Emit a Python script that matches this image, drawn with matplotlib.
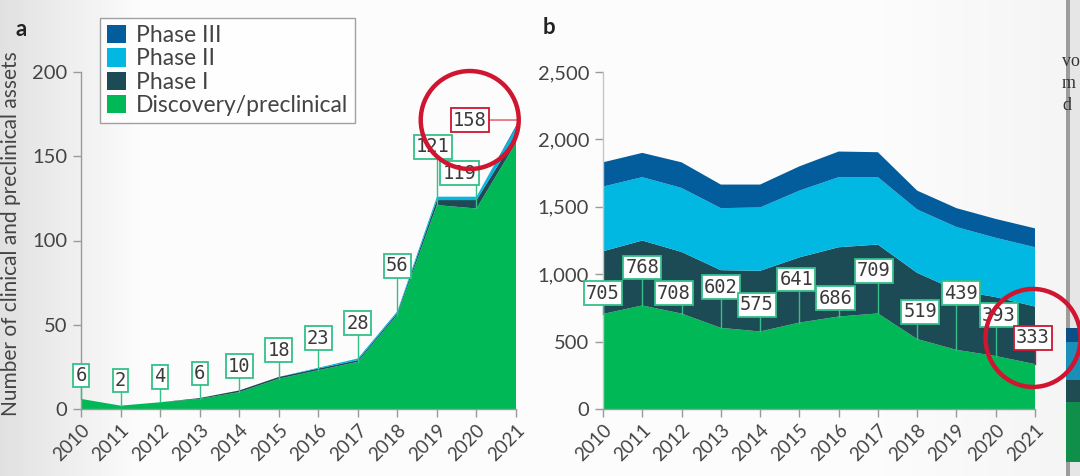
#============================================================
# PLOT.PY  -- clinical / preclinical assets, two stacked panels
#============================================================

import numpy as np
import matplotlib
matplotlib.use('Agg')
import matplotlib.pyplot as plt
from matplotlib.patches import Ellipse, Rectangle
from matplotlib.ticker import FuncFormatter

#------------------------------------------------------------
years = list(range(2010, 2022))
phases = ['Discovery/preclinical', 'Phase I', 'Phase II', 'Phase III']

# panel a
a_disc = [6, 2, 4, 6, 10, 18, 23, 28, 56, 121, 119, 158]
a_ph1  = [0, 0, 0, 0.5, 1, 1, 1, 1, 1, 3, 5, 4]
a_ph2  = [0, 0, 0, 0, 0, 0, 0.5, 1, 1, 2, 2, 5]
a_ph3  = [0, 0, 0, 0, 0, 0, 0, 0, 0, 0, 0, 1]
a_laby = [20, 17, 19, 21, 25.5, 35, 42, 51, 85, 155.5, 140, 171.5]
a_labdx = [0, 0, 0, 0, 0, 0, 0, 0, 0, -0.1, -0.43, -1.17]

# panel b
b_disc = [705, 768, 708, 602, 575, 641, 686, 709, 519, 439, 393, 333]
b_ph1  = [465, 482, 457, 428, 450, 484, 514, 511, 491, 441, 437, 427]
b_ph2  = [480, 470, 475, 460, 470, 495, 520, 500, 470, 470, 440, 440]
b_ph3  = [180, 180, 190, 175, 170, 180, 190, 185, 140, 140, 140, 140]
b_laby = [860, 1050, 860, 905, 772, 960, 823, 1024, 720, 860, 697, 527]
b_labdx = [0, 0, -0.2, 0, -0.08, -0.08, -0.08, -0.1, 0.08, 0.12, 0.08, -0.05]

colors = ['#00b956', '#1d4b55', '#00b8e2', '#035c9c']
GREEN_BOX = '#34c088'
RED = '#cf1530'
TXT = '#444444'

plt.rcParams['font.family'] = ['Lato', 'DejaVu Sans']

#------------------------------------------------------------
fig = plt.figure(figsize=(10.8, 4.76), dpi=100)
fig.patch.set_facecolor('#f6f6f6')

# soft background shading like the photographed page
bg = fig.add_axes([0, 0, 1, 1], zorder=-10)
shade = np.concatenate([np.linspace(0.88, 0.985, 140), np.full(740, 0.985),
                        np.linspace(0.985, 0.955, 200)])
bg.imshow(shade[None, :], cmap='gray', vmin=0, vmax=1, aspect='auto',
          extent=[0, 1, 0, 1])
bg.set_axis_off()

W, H = 1080, 476
axa = fig.add_axes([81/W, 1-409/H, (516-81)/W, 337/H])
axb = fig.add_axes([603/W, 1-409/H, (1035-603)/W, 337/H])

def style_axes(ax, ymax, step, fmt=None):
    ax.set_facecolor('none')
    ax.set_xlim(2010, 2021)
    ax.set_ylim(0, ymax)
    ax.set_yticks(np.arange(0, ymax + 1, step))
    ax.set_xticks(years)
    ax.set_xticklabels([str(y) for y in years], rotation=45, ha='right',
                       rotation_mode='anchor')
    for s in ['top', 'right']:
        ax.spines[s].set_visible(False)
    for s in ['left', 'bottom']:
        ax.spines[s].set_color('#9a9a9a')
        ax.spines[s].set_linewidth(1.0)
    ax.tick_params(axis='both', colors='#9a9a9a', labelcolor=TXT,
                   length=6, width=1)
    ax.tick_params(axis='y', labelsize=14.5, pad=4)
    ax.tick_params(axis='x', labelsize=13.5, pad=3)
    if fmt:
        ax.yaxis.set_major_formatter(FuncFormatter(fmt))

def draw_labels(ax, disc, laby, dx, red_last):
    n = len(years)
    for i, (x, v, ly, d) in enumerate(zip(years, disc, laby, dx)):
        last = red_last and i == n - 1
        ec = RED if last else GREEN_BOX
        box = dict(boxstyle='square,pad=0.12', fc='white', ec=ec, lw=1.3)
        kw = dict(ha='center', va='center', fontsize=13.5,
                  family='DejaVu Sans Mono', color='#3a3a3a', bbox=box,
                  annotation_clip=False, zorder=5)
        if last and ax is axa:
            ap = dict(arrowstyle='-', color='#e05060', lw=1.0, shrinkA=0,
                      shrinkB=0, relpos=(1, 0.5),
                      connectionstyle='angle,angleA=0,angleB=70,rad=0')
            ax.annotate(str(v), xy=(x, v + 9), xytext=(x + d, ly),
                        arrowprops=ap, **kw)
        else:
            # straight leader from the point up to its box
            ax.plot([x, x], [v, ly], color=RED if last else GREEN_BOX,
                    lw=1.0, zorder=4, clip_on=False)
            ax.annotate(str(v), xy=(x, v), xytext=(x + d, ly), **kw)

#------------------------------------------------------------
style_axes(axa, 200, 50)
axa.stackplot(years, a_disc, a_ph1, a_ph2, a_ph3, colors=colors,
              labels=phases, lw=0)
draw_labels(axa, a_disc, a_laby, a_labdx, True)
axa.set_ylabel('Number of clinical and preclinical assets', fontsize=15,
               color=TXT)
axa.yaxis.set_label_coords(-0.138, 0.52)

handles, labels = axa.get_legend_handles_labels()
leg = fig.legend(handles[::-1], labels[::-1], loc='upper left',
                 bbox_to_anchor=(100/W, 1-18/H), fontsize=16.5,
                 frameon=True, fancybox=False, edgecolor='#8a8a8a',
                 handlelength=0.85, handleheight=0.85, handletextpad=0.4,
                 labelspacing=0.1, borderpad=0.3, borderaxespad=0)
leg.get_frame().set_linewidth(1.0)
leg.get_frame().set_facecolor('white')
for t in leg.get_texts():
    t.set_color(TXT)

style_axes(axb, 2500, 500, lambda v, p: f'{int(v):,}')
axb.spines['left'].set_color('#c4c4c4')
axb.stackplot(years, b_disc, b_ph1, b_ph2, b_ph3, colors=colors, lw=0)
draw_labels(axb, b_disc, b_laby, b_labdx, True)

# red highlight rings round the last labels
for ax, dx, ly, wpx, hpx in [(axa, a_labdx[-1], a_laby[-1], 98, 98),
                             (axb, b_labdx[-1], b_laby[-1], 95, 98)]:
    x0, x1 = ax.get_xlim()
    y0, y1 = ax.get_ylim()
    bb = ax.get_position()
    ww = wpx / (bb.width * W) * (x1 - x0)
    hh = hpx / (bb.height * H) * (y1 - y0)
    ax.add_patch(Ellipse((2021 + dx, ly), ww, hh, fill=False, ec=RED,
                         lw=3.2, clip_on=False, zorder=6))

fig.text(16/W, 1-30/H, 'a', fontsize=16, fontweight='bold', color='#222222',
         va='center')
fig.text(543/W, 1-28/H, 'b', fontsize=16, fontweight='bold', color='#222222',
         va='center')

#------------------------------------------------------------
# edge of the neighbouring page on the right
fig.patches.append(Rectangle((1066/W, 0), 4/W, 1, transform=fig.transFigure,
                             fc='#9c9c9c', ec='none', zorder=-5))
fig.patches.append(Rectangle((1070/W, 0), 10/W, 1, transform=fig.transFigure,
                             fc='#e6e6e6', ec='none', zorder=-5))
for (y0, y1, c) in [(328, 342, '#0a4f86'), (342, 380, '#1a8fb8'),
                    (380, 402, '#1f4b52'), (402, 462, '#0f8f4a')]:
    fig.patches.append(Rectangle((1066/W, 1-y1/H), 14/W, (y1-y0)/H,
                                 transform=fig.transFigure, fc=c, ec='none',
                                 zorder=-4))
for s, yy in [('vo', 62), ('m', 84), ('d', 106)]:
    fig.text(1062/W, 1-yy/H, s, fontsize=13, family='Liberation Serif',
             color='#333333', va='center')

fig.savefig('out.png', dpi=100, facecolor=fig.get_facecolor())

#------------------------------------------------------------
#        END OF FILE : PLOT.PY
#============================================================
